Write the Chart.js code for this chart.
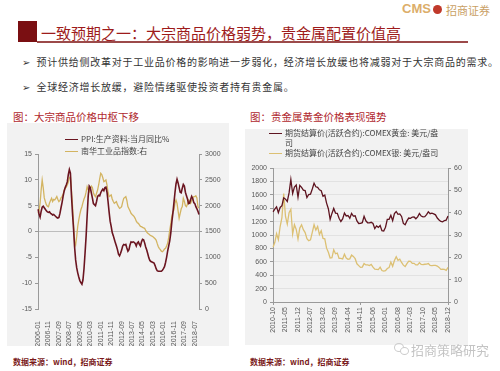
<!DOCTYPE html>
<html lang="zh">
<head>
<meta charset="UTF-8">
<title>一致预期之一</title>
<script src="https://cdn.jsdelivr.net/npm/chart.js"></script>
<style>
  body { margin: 0; background: #fff; }
  #page { position: relative; width: 500px; height: 371px; overflow: hidden; background: #fff;
    font-family: "Noto Sans CJK SC", "Liberation Sans", sans-serif; }
  .abs { position: absolute; white-space: nowrap; }
  .panel { position: absolute; background: #f2f2f2; }
  .lg { position: absolute; font-size: 8px; color: #444; line-height: 10px; white-space: nowrap; }
  .lg i { position: absolute; left: -16px; top: 5px; width: 13px; height: 0; border-top: 1.5px solid; }
  .ctitle { position: absolute; font-size: 10.5px; color: #b0282e; top: 109px; }
  .src { position: absolute; font-size: 8px; font-weight: bold; color: #7a1a1a; top: 356px; }
  .bullet { position: absolute; left: 22px; font-size: 10px; color: #333; letter-spacing: 0.75px; white-space: nowrap; }
  .bullet b { font-family: "DejaVu Sans"; font-weight: normal; font-size: 10px; margin-right: 6px; letter-spacing: 0; }
</style>
</head>
<body>
<div id="page">
  <!-- header -->
  <div class="abs" style="left:402px; top:1px; font: bold 13px 'Liberation Sans'; color:#dcae6a;">CMS</div>
  <div class="abs" style="left:433px; top:5px; width:9px; height:9px; border-radius:50%; background:#c0392b;"></div>
  <div class="abs" style="left:446px; top:2px; font-size:11px; color:#c9a063;">招商证券</div>

  <div class="abs" style="left:18px; top:21px; width:19px; height:21px; background:#7a0f12;"></div>
  <div class="abs" style="left:37px; top:41px; width:431px; height:1.5px; background:#9c4a4a;"></div>
  <div class="abs" style="left:41px; top:22px; font-size:15px; color:#9e1b1b;">一致预期之一：大宗商品价格弱势，贵金属配置价值高</div>

  <div class="bullet" style="top:54px;"><b>➢</b>预计供给侧改革对于工业品价格的影响进一步弱化，经济增长放缓也将减弱对于大宗商品的需求。</div>
  <div class="bullet" style="top:79px;"><b>➢</b>全球经济增长放缓，避险情绪驱使投资者持有贵金属。</div>

  <!-- left chart -->
  <div class="ctitle" style="left:13px;">图：大宗商品价格中枢下移</div>
  <div class="panel" style="left:7px; top:123px; width:222px; height:223px;"></div>
  <canvas id="c1" class="abs" style="left:7px; top:123px;" width="222" height="223"></canvas>
  <div class="lg" style="left:81px; top:134px;"><i style="border-color:#6b1520"></i>PPI:生产资料:当月同比%</div>
  <div class="lg" style="left:81px; top:146px;"><i style="border-color:#d3b461"></i>南华工业品指数:右</div>
  <div class="src" style="left:13px;">数据来源：wind，招商证券</div>

  <!-- right chart -->
  <div class="ctitle" style="left:250px;">图：贵金属黄金价格表现强势</div>
  <div class="panel" style="left:245px; top:129px; width:223px; height:216px;"></div>
  <canvas id="c2" class="abs" style="left:245px; top:129px;" width="223" height="216"></canvas>
  <div class="lg" style="left:285px; top:128px;"><i style="border-color:#5e1420"></i>期货结算价(活跃合约):COMEX黄金: 美元/盎<br>司</div>
  <div class="lg" style="left:285px; top:148px;"><i style="border-color:#dcc073"></i>期货结算价(活跃合约):COMEX银: 美元/盎司</div>
  <div class="src" style="left:250px;">数据来源：wind，招商证券</div>

  <!-- watermark -->
  <div class="abs" style="left:394px; top:343px; width:8px; height:7px; border:1px solid #ccc; border-radius:50%;"></div>
  <div class="abs" style="left:400px; top:347px; width:7px; height:6px; border:1px solid #ccc; border-radius:50%; background:#fff;"></div>
  <div class="abs" style="left:411px; top:340px; font-size:13px; color:#c4c4c4;">招商策略研究</div>
</div>

<script>
// ---- left chart data: monthly 2006-01 .. 2018-11
const ppiMonths = [];
for (let y = 2006; y <= 2018; y++) {
  for (let m = 1; m <= 12; m++) {
    if (y === 2018 && m > 11) break;
    ppiMonths.push(y + '-' + String(m).padStart(2, '0'));
  }
}
const ppiValues = [
  4.3, 3.4, 2.8, 3.9, 4.7, 4.9, 4.6, 4.3, 4.0, 3.8,
  3.7, 3.8, 3.5, 3.4, 3.2, 3.3, 3.1, 2.9, 2.7, 2.6,
  2.7, 3.5, 4.6, 5.6, 6.8, 7.8, 8.5, 9.0, 9.6, 11.0,
  12.0, 11.3, 7.0, 3.5, 0.5, -3.0, -5.5, -7.0, -8.0, -8.8,
  -9.5, -9.9, -10.2, -9.4, -7.2, -4.2, -1.0, 3.0, 6.8, 8.8,
  8.5, 7.5, 6.5, 5.4, 5.2, 5.0, 5.8, 6.8, 7.0, 6.9,
  7.5, 7.9, 8.2, 7.9, 8.5, 8.6, 7.6, 5.8, 3.8, 2.0,
  1.0, -0.2, -0.8, -1.5, -2.2, -2.8, -3.5, -4.4, -4.7, -4.2,
  -3.6, -2.8, -2.5, -2.6, -2.5, -3.2, -3.8, -3.5, -2.6, -2.0,
  -2.1, -2.0, -2.1, -2.3, -2.8, -2.2, -2.0, -2.5, -2.8, -2.0,
  -1.5, -1.6, -2.2, -3.0, -3.6, -4.3, -5.1, -5.6, -5.8, -5.9,
  -6.0, -6.1, -6.6, -7.2, -7.6, -7.7, -7.7, -7.7, -7.7, -7.5,
  -7.2, -6.8, -6.0, -5.0, -3.8, -2.8, -1.8, -0.3, 1.8, 3.5,
  5.5, 7.5, 9.2, 10.1, 9.4, 8.5, 7.6, 7.5, 8.4, 9.1,
  8.8, 7.6, 6.9, 6.3, 5.4, 5.5, 6.2, 6.8, 6.4, 5.6,
  5.4, 4.8, 4.4, 3.9, 3.3
];
const nanhuaValues = [
  1852, 1900, 2050, 2300, 2497, 2350, 2150, 2080, 2020, 1990,
  1980, 2050, 2100, 2142, 2080, 2120, 2110, 2140, 2175, 2120,
  2079, 2100, 2150, 2175, 2220, 2300, 2336, 2360, 2400, 2450,
  2540, 2561, 2300, 2010, 1650, 1300, 1240, 1400, 1600, 1723,
  1830, 1920, 1980, 2060, 2130, 2175, 2260, 2368, 2310, 2271,
  2330, 2380, 2350, 2250, 2200, 2175, 2240, 2303, 2400, 2520,
  2626, 2600, 2540, 2465, 2480, 2497, 2400, 2260, 2175, 2190,
  2207, 2130, 2080, 2045, 2060, 2078, 2020, 1980, 1949, 1960,
  1981, 2070, 2142, 2160, 2175, 2100, 1981, 1940, 1900, 1852,
  1830, 1810, 1787, 1750, 1700, 1670, 1658, 1630, 1600, 1594,
  1580, 1570, 1562, 1520, 1490, 1465, 1450, 1432, 1420, 1410,
  1400, 1380, 1360, 1335, 1270, 1210, 1175, 1150, 1120, 1109,
  1130, 1160, 1175, 1220, 1271, 1380, 1520, 1650, 1787, 1880,
  1916, 2050, 2110, 2045, 1900, 1755, 1850, 1940, 1981, 2142,
  2080, 2000, 1981, 2030, 2110, 2080, 2045, 2100, 2150, 2175,
  2175, 2190, 2150, 1981, 1950
];

// ---- right chart data: monthly 2010-10 .. 2018-12
const metalMonths = [];
for (let y = 2010; y <= 2018; y++) {
  for (let m = (y === 2010 ? 10 : 1); m <= 12; m++) {
    metalMonths.push(y + '-' + String(m).padStart(2, '0'));
  }
}
const goldValues = [
  1346, 1386, 1421,
  1333, 1411, 1439, 1556, 1536, 1500, 1628, 1828, 1620, 1715, 1746, 1565,
  1740, 1710, 1669, 1664, 1560, 1604, 1610, 1687, 1773, 1720, 1712, 1675,
  1661, 1579, 1595, 1476, 1392, 1234, 1322, 1396, 1327, 1323, 1250, 1202,
  1240, 1326, 1284, 1291, 1250, 1322, 1282, 1287, 1210, 1172, 1175, 1184,
  1279, 1212, 1183, 1182, 1190, 1172, 1095, 1135, 1114, 1142, 1065, 1061,
  1116, 1234, 1234, 1293, 1215, 1321, 1351, 1309, 1315, 1277, 1173, 1152,
  1210, 1253, 1249, 1268, 1269, 1242, 1270, 1320, 1283, 1271, 1275, 1303,
  1345, 1318, 1325, 1316, 1301, 1253, 1224, 1202, 1196, 1215, 1222, 1282
];
const silverValues = [
  24.5, 26.6, 30.6,
  27.9, 33.8, 37.8, 48.6, 38.3, 34.9, 40.0, 41.5, 30.4, 34.6, 32.5, 28.2,
  33.1, 34.6, 32.4, 31.1, 28.3, 27.4, 27.8, 31.2, 34.6, 32.2, 33.8, 30.2,
  31.9, 28.5, 28.3, 24.1, 22.3, 19.7, 19.8, 23.4, 21.6, 21.9, 19.5, 19.5,
  19.3, 21.4, 19.7, 19.1, 19.3, 21.0, 20.4, 19.4, 17.1, 16.3, 15.5, 15.6,
  17.2, 16.6, 16.6, 16.3, 16.8, 15.6, 14.7, 14.6, 14.5, 15.6, 14.1, 13.8,
  14.0, 15.0, 15.4, 17.9, 16.0, 18.6, 20.3, 18.7, 19.2, 17.7, 16.5, 15.9,
  17.2, 18.3, 18.2, 17.3, 17.3, 16.6, 16.6, 17.6, 16.8, 16.7, 16.9, 17.0,
  17.2, 16.4, 16.3, 16.4, 16.4, 16.1, 15.5, 14.6, 14.7, 14.6, 14.2, 15.5
];

Chart.defaults.font.family = "'Liberation Sans', Arial, sans-serif";
Chart.defaults.font.size = 7;
Chart.defaults.color = '#595959';
Chart.defaults.animation = false;

const axisGray = '#9a9a9a';
const plain = v => String(v);

new Chart(document.getElementById('c1'), {
  type: 'line',
  data: {
    labels: ppiMonths,
    datasets: [
      { label: 'PPI:生产资料:当月同比%', data: ppiValues, yAxisID: 'y',
        borderColor: '#6b1520', borderWidth: 1.6, pointRadius: 0, tension: 0 },
      { label: '南华工业品指数:右', data: nanhuaValues, yAxisID: 'y1',
        borderColor: '#d3b461', borderWidth: 1.3, pointRadius: 0, tension: 0 }
    ]
  },
  options: {
    responsive: false,
    layout: { padding: { top: 31, left: 0, right: 0, bottom: 0 } },
    plugins: { legend: { display: false }, tooltip: { enabled: false } },
    scales: {
      x: {
        grid: { display: false }, border: { display: false },
        ticks: {
          autoSkip: false, minRotation: 90, maxRotation: 90, padding: 4,
          callback: function(v, i) { return i % 10 === 0 ? this.getLabelForValue(v) : null; }
        },
        afterFit: s => { s.height = 37; }
      },
      y: {
        position: 'left', min: -15, max: 15,
        ticks: { stepSize: 5, callback: plain },
        grid: { color: ctx => (ctx.tick && ctx.tick.value === 0) ? '#bdbdbd' : 'transparent',
                tickColor: axisGray, tickLength: 3 },
        border: { color: axisGray },
        afterFit: s => { s.width = 31; }
      },
      y1: {
        position: 'right', min: 0, max: 3000,
        ticks: { stepSize: 500, callback: plain },
        grid: { drawOnChartArea: false, tickColor: axisGray, tickLength: 3 },
        border: { color: axisGray },
        afterFit: s => { s.width = 30; }
      }
    }
  }
});

new Chart(document.getElementById('c2'), {
  type: 'line',
  data: {
    labels: metalMonths,
    datasets: [
      { label: '期货结算价(活跃合约):COMEX黄金: 美元/盎司', data: goldValues, yAxisID: 'y',
        borderColor: '#5e1420', borderWidth: 1.3, pointRadius: 0, tension: 0 },
      { label: '期货结算价(活跃合约):COMEX银: 美元/盎司', data: silverValues, yAxisID: 'y1',
        borderColor: '#dcc073', borderWidth: 1.3, pointRadius: 0, tension: 0 }
    ]
  },
  options: {
    responsive: false,
    layout: { padding: { top: 39, left: 0, right: 0, bottom: 0 } },
    plugins: { legend: { display: false }, tooltip: { enabled: false } },
    scales: {
      x: {
        grid: { drawOnChartArea: false, tickLength: 3,
                tickColor: ctx => ctx.index % 7 === 0 ? axisGray : 'transparent' },
        border: { color: axisGray },
        ticks: {
          autoSkip: false, minRotation: 90, maxRotation: 90, padding: 2,
          callback: function(v, i) { return i % 7 === 0 ? this.getLabelForValue(v) : null; }
        },
        afterFit: s => { s.height = 43; }
      },
      y: {
        position: 'left', min: 0, max: 2000,
        ticks: { stepSize: 200, callback: plain },
        grid: { color: '#e2e2e2', tickColor: axisGray, tickLength: 3 },
        border: { color: axisGray },
        afterFit: s => { s.width = 28; }
      },
      y1: {
        position: 'right', min: 0, max: 60,
        ticks: { stepSize: 10, callback: plain },
        grid: { drawOnChartArea: false, tickColor: axisGray, tickLength: 3 },
        border: { color: axisGray },
        afterFit: s => { s.width = 20; }
      }
    }
  }
});
</script>
</body>
</html>
